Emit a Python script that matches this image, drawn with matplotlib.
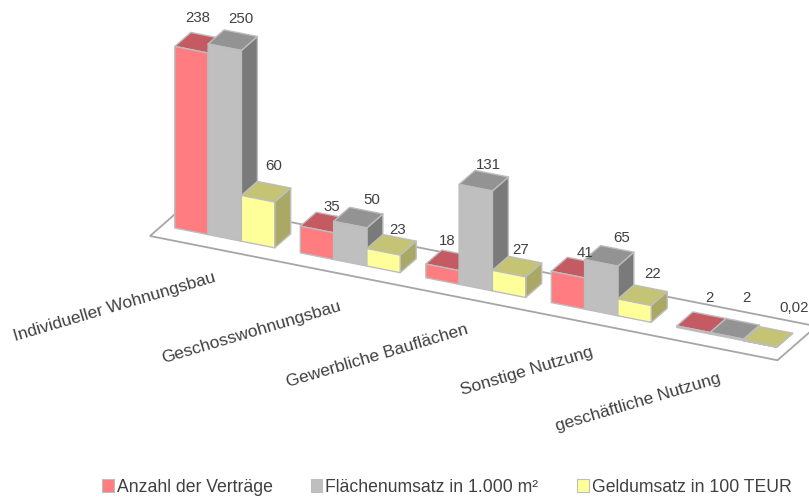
import matplotlib
matplotlib.use("Agg")
import matplotlib.pyplot as plt
from matplotlib.patches import Polygon, Patch

plt.rcParams['font.family'] = ['Liberation Sans', 'DejaVu Sans']

categories = ["Individueller Wohnungsbau", "Geschosswohnungsbau", "Gewerbliche Bauflächen",
              "Sonstige Nutzung", "geschäftliche Nutzung"]
series_names = ["Anzahl der Verträge", "Flächenumsatz in 1.000 m²", "Geldumsatz in 100 TEUR"]
anzahl = [238, 35, 18, 41, 2]
flaeche = [250, 50, 131, 65, 2]
geld = [60, 23, 27, 22, 0.02]
value_labels = [["238", "35", "18", "41", "2"],
                ["250", "50", "131", "65", "2"],
                ["60", "23", "27", "22", "0,02"]]

# style / layout
front = ["#FF7C80", "#BFBFBF", "#FFFF99"]
top = ["#C45A62", "#939393", "#C4C474"]
side = ["#A8525A", "#7A7A7A", "#A9A965"]
edge = "#BDBDBD"
text_col = "#404040"
series = [anzahl, flaeche, geld]

ORIGIN = (150.0, 237.0)
BAND = 125.5
SLOPE = 0.198
DEPTH = (16.0, -14.0)
VSCALE = 0.763
BAR_W = 33.3 / BAND
GAP = (1 - 3 * BAR_W) / 2
FLOOR_D = 2.43
BAR_D0 = 0.75


def proj(u, d, v=0.0):
    """category units, depth units, value -> figure pixels"""
    x = ORIGIN[0] + u * BAND + d * DEPTH[0]
    y = ORIGIN[1] + u * BAND * SLOPE + d * DEPTH[1] - v * VSCALE
    return (x, y)


fig = plt.figure(figsize=(8.09, 5.02), dpi=100)
ax = fig.add_axes([0, 0, 1, 1])
ax.set_xlim(0, 809)
ax.set_ylim(502, 0)
ax.axis("off")

n = len(categories)
ax.add_patch(Polygon([proj(0, 0), proj(n, 0), proj(n, FLOOR_D), proj(0, FLOOR_D)],
                     closed=True, fc="white", ec="#A6A6A6", lw=1.3, zorder=1))

z = 2
for c in range(n):
    for s in range(3):
        v = series[s][c]
        u0 = c + GAP + s * BAR_W
        u1 = u0 + BAR_W
        d0, d1 = BAR_D0, BAR_D0 + 1
        faces = [
            ([proj(u1, d0), proj(u1, d1), proj(u1, d1, v), proj(u1, d0, v)], side[s]),
            ([proj(u0, d0, v), proj(u1, d0, v), proj(u1, d1, v), proj(u0, d1, v)], top[s]),
            ([proj(u0, d0), proj(u1, d0), proj(u1, d0, v), proj(u0, d0, v)], front[s]),
        ]
        for pts, col in faces:
            ax.add_patch(Polygon(pts, closed=True, fc=col, ec=edge, lw=1.0,
                                 joinstyle="round", zorder=z))
            z += 1

# label offsets from the centre of each bar's top (pixels)
label_dx = [[-2, 7, -3, 9, 8], [8, 14, 5, 12, 12], [8, 6, 4, 10, 26]]
label_dy = [[-26, -16, -20, -16, -25], [-22, -19, -17, -19, -32], [-27, -16, -18, -22, -30]]
for s in range(3):
    for c in range(n):
        um = c + GAP + (s + 0.5) * BAR_W
        x, y = proj(um, BAR_D0 + 0.5, series[s][c])
        ax.text(x + label_dx[s][c], y + label_dy[s][c], value_labels[s][c], ha="center", va="center",
                fontsize=10.8, color=text_col, zorder=200)

cat_xy_offset = [(-98, 58), (-87, 58), (-87, 57), (-62, 47), (-77, 54)]
for c, name in enumerate(categories):
    x, y = proj(c + 0.5, 0)
    ax.text(x + cat_xy_offset[c][0], y + cat_xy_offset[c][1], name, rotation=16.5, rotation_mode="anchor",
            ha="center", va="center", fontsize=12.5, color=text_col, zorder=200)

handles = [Patch(fc=front[i], ec=edge, lw=0.8, label=series_names[i]) for i in range(3)]
ax.legend(handles=handles, ncol=3, frameon=False, loc="center", bbox_to_anchor=(446.5 / 809, 1 - 488 / 502),
          fontsize=12.7, labelcolor=text_col, handlelength=0.68, handleheight=0.72, handletextpad=0.17,
          columnspacing=2.15, borderpad=0, borderaxespad=0)

fig.savefig("out.png", dpi=100)
